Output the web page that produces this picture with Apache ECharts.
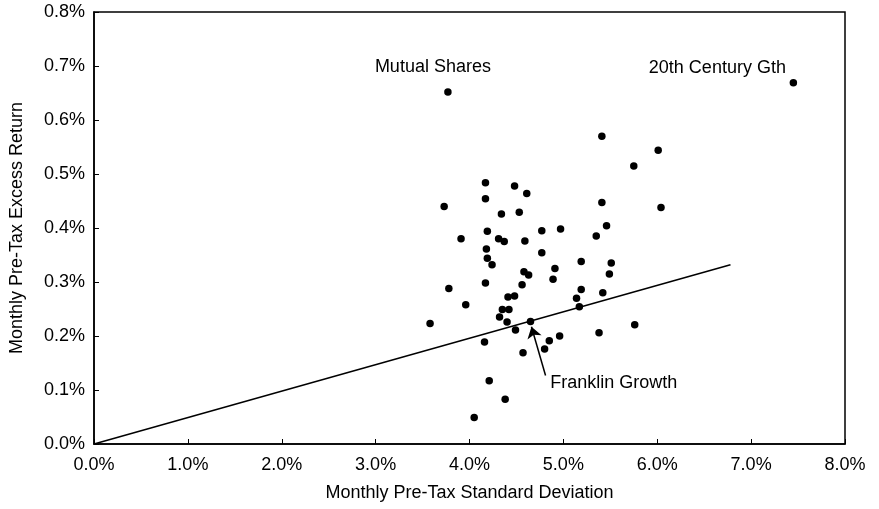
<!DOCTYPE html>
<html>
<head>
<meta charset="utf-8">
<script src="https://cdn.jsdelivr.net/npm/echarts@6/dist/echarts.min.js"></script>
<style>
  html, body { margin: 0; padding: 0; background: #fff; }
  #chart { width: 879px; height: 509px; }
</style>
</head>
<body>
<div id="chart"></div>
<script>
// fund risk / return, in percent per month
const stdDev = [
  3.77, 7.45, 5.41, 6.01, 5.75, 4.17, 4.48, 4.17, 4.61, 3.73,
  4.34, 4.53, 5.41, 6.04, 4.19, 4.77, 4.97, 5.46, 3.91, 4.31,
  4.37, 4.59, 5.35, 4.18, 4.77, 4.19, 5.19, 5.51, 4.24, 4.91,
  4.58, 4.63, 5.49, 4.89, 4.17, 4.56, 3.78, 4.41, 4.48, 5.19,
  5.42, 5.14, 3.96, 4.35, 4.42, 4.32, 5.17, 4.40, 3.58, 4.65,
  4.49, 4.85, 4.96, 5.38, 5.76, 4.80, 4.16, 4.57, 4.21, 4.38,
  4.05
];
const excessReturn = [
  0.652, 0.669, 0.570, 0.544, 0.515, 0.484, 0.478, 0.454, 0.464, 0.440,
  0.426, 0.429, 0.447, 0.438, 0.394, 0.395, 0.398, 0.404, 0.380, 0.380,
  0.375, 0.376, 0.385, 0.361, 0.354, 0.344, 0.338, 0.335, 0.332, 0.325,
  0.319, 0.313, 0.315, 0.305, 0.298, 0.295, 0.288, 0.272, 0.274, 0.286,
  0.280, 0.270, 0.258, 0.249, 0.249, 0.235, 0.254, 0.226, 0.223, 0.227,
  0.211, 0.191, 0.200, 0.206, 0.221, 0.176, 0.189, 0.169, 0.117, 0.083,
  0.049
];
const fundNames = ["Mutual Shares", "20th Century Gth"];
const franklinIdx = 49;
const lineX = [0, 6.78];
const lineY = [0, 0.332];
const xTicks = [0, 1, 2, 3, 4, 5, 6, 7, 8];
const yTicks = [0, 0.1, 0.2, 0.3, 0.4, 0.5, 0.6, 0.7, 0.8];

const font = "Liberation Sans";
const chart = echarts.init(document.getElementById("chart"));

let points = stdDev.map((x, i) => [x, excessReturn[i]]);
let scatterData = points.map((p, i) => {
  let item = { value: p };
  if (i === 0) {
    item.label = { show: true, formatter: fundNames[0], position: "top", distance: 12, offset: [-15, 0], color: "#000" };
  } else if (i === 1) {
    item.label = { show: true, formatter: fundNames[1], position: "top", distance: 2, offset: [-76, 0], color: "#000" };
  }
  return item;
});
let fr = points[franklinIdx];

let option = {
  animation: false,
  backgroundColor: "#fff",
  textStyle: { fontFamily: font, color: "#000" },
  grid: {
    left: 94, right: 34, top: 12, bottom: 65,
    show: true, borderColor: "#000", borderWidth: 1.5
  },
  xAxis: {
    type: "value",
    min: xTicks[0], max: xTicks[xTicks.length - 1], interval: 1,
    name: "Monthly Pre-Tax Standard Deviation",
    nameLocation: "middle",
    nameGap: 40,
    nameTextStyle: { fontSize: 18, fontFamily: font, color: "#000" },
    axisLine: { lineStyle: { color: "#000", width: 1.5 } },
    axisTick: { inside: true, length: 5, lineStyle: { color: "#000" } },
    axisLabel: {
      fontSize: 18, fontFamily: font, color: "#000", margin: 12,
      formatter: v => v.toFixed(1) + "%"
    },
    splitLine: { show: false }
  },
  yAxis: {
    type: "value",
    min: yTicks[0], max: yTicks[yTicks.length - 1], interval: 0.1,
    name: "Monthly Pre-Tax Excess Return",
    nameLocation: "middle",
    nameGap: 68,
    nameTextStyle: { fontSize: 18, fontFamily: font, color: "#000" },
    axisLine: { lineStyle: { color: "#000", width: 1.5 } },
    axisTick: { inside: true, length: 5, lineStyle: { color: "#000" } },
    axisLabel: {
      fontSize: 18, fontFamily: font, color: "#000", margin: 9,
      formatter: v => v.toFixed(1) + "%"
    },
    splitLine: { show: false }
  },
  series: [
    {
      type: "line",
      data: lineX.map((x, i) => [x, lineY[i]]),
      symbol: "none",
      lineStyle: { color: "#000", width: 1.5 },
      z: 1
    },
    {
      type: "scatter",
      data: scatterData,
      symbolSize: 7.5,
      itemStyle: { color: "#000", opacity: 1 },
      label: { fontSize: 18, fontFamily: font, color: "#000" },
      markLine: {
        silent: true,
        symbol: ["none", "arrow"],
        symbolSize: 11,
        lineStyle: { color: "#000", width: 1.5, type: "solid" },
        label: { show: false },
        data: [[
          { coord: [fr[0] + 0.16, fr[1] - 0.1] },
          { coord: [fr[0] + 0.01, fr[1] - 0.01] }
        ]]
      },
      markPoint: {
        symbol: "circle",
        symbolSize: 0,
        label: {
          show: true, position: "right", distance: 0,
          formatter: "Franklin Growth",
          fontSize: 18, fontFamily: font, color: "#000"
        },
        data: [{ coord: [fr[0] + 0.21, fr[1] - 0.114] }]
      }
    }
  ]
};
chart.setOption(option);
</script>
</body>
</html>
